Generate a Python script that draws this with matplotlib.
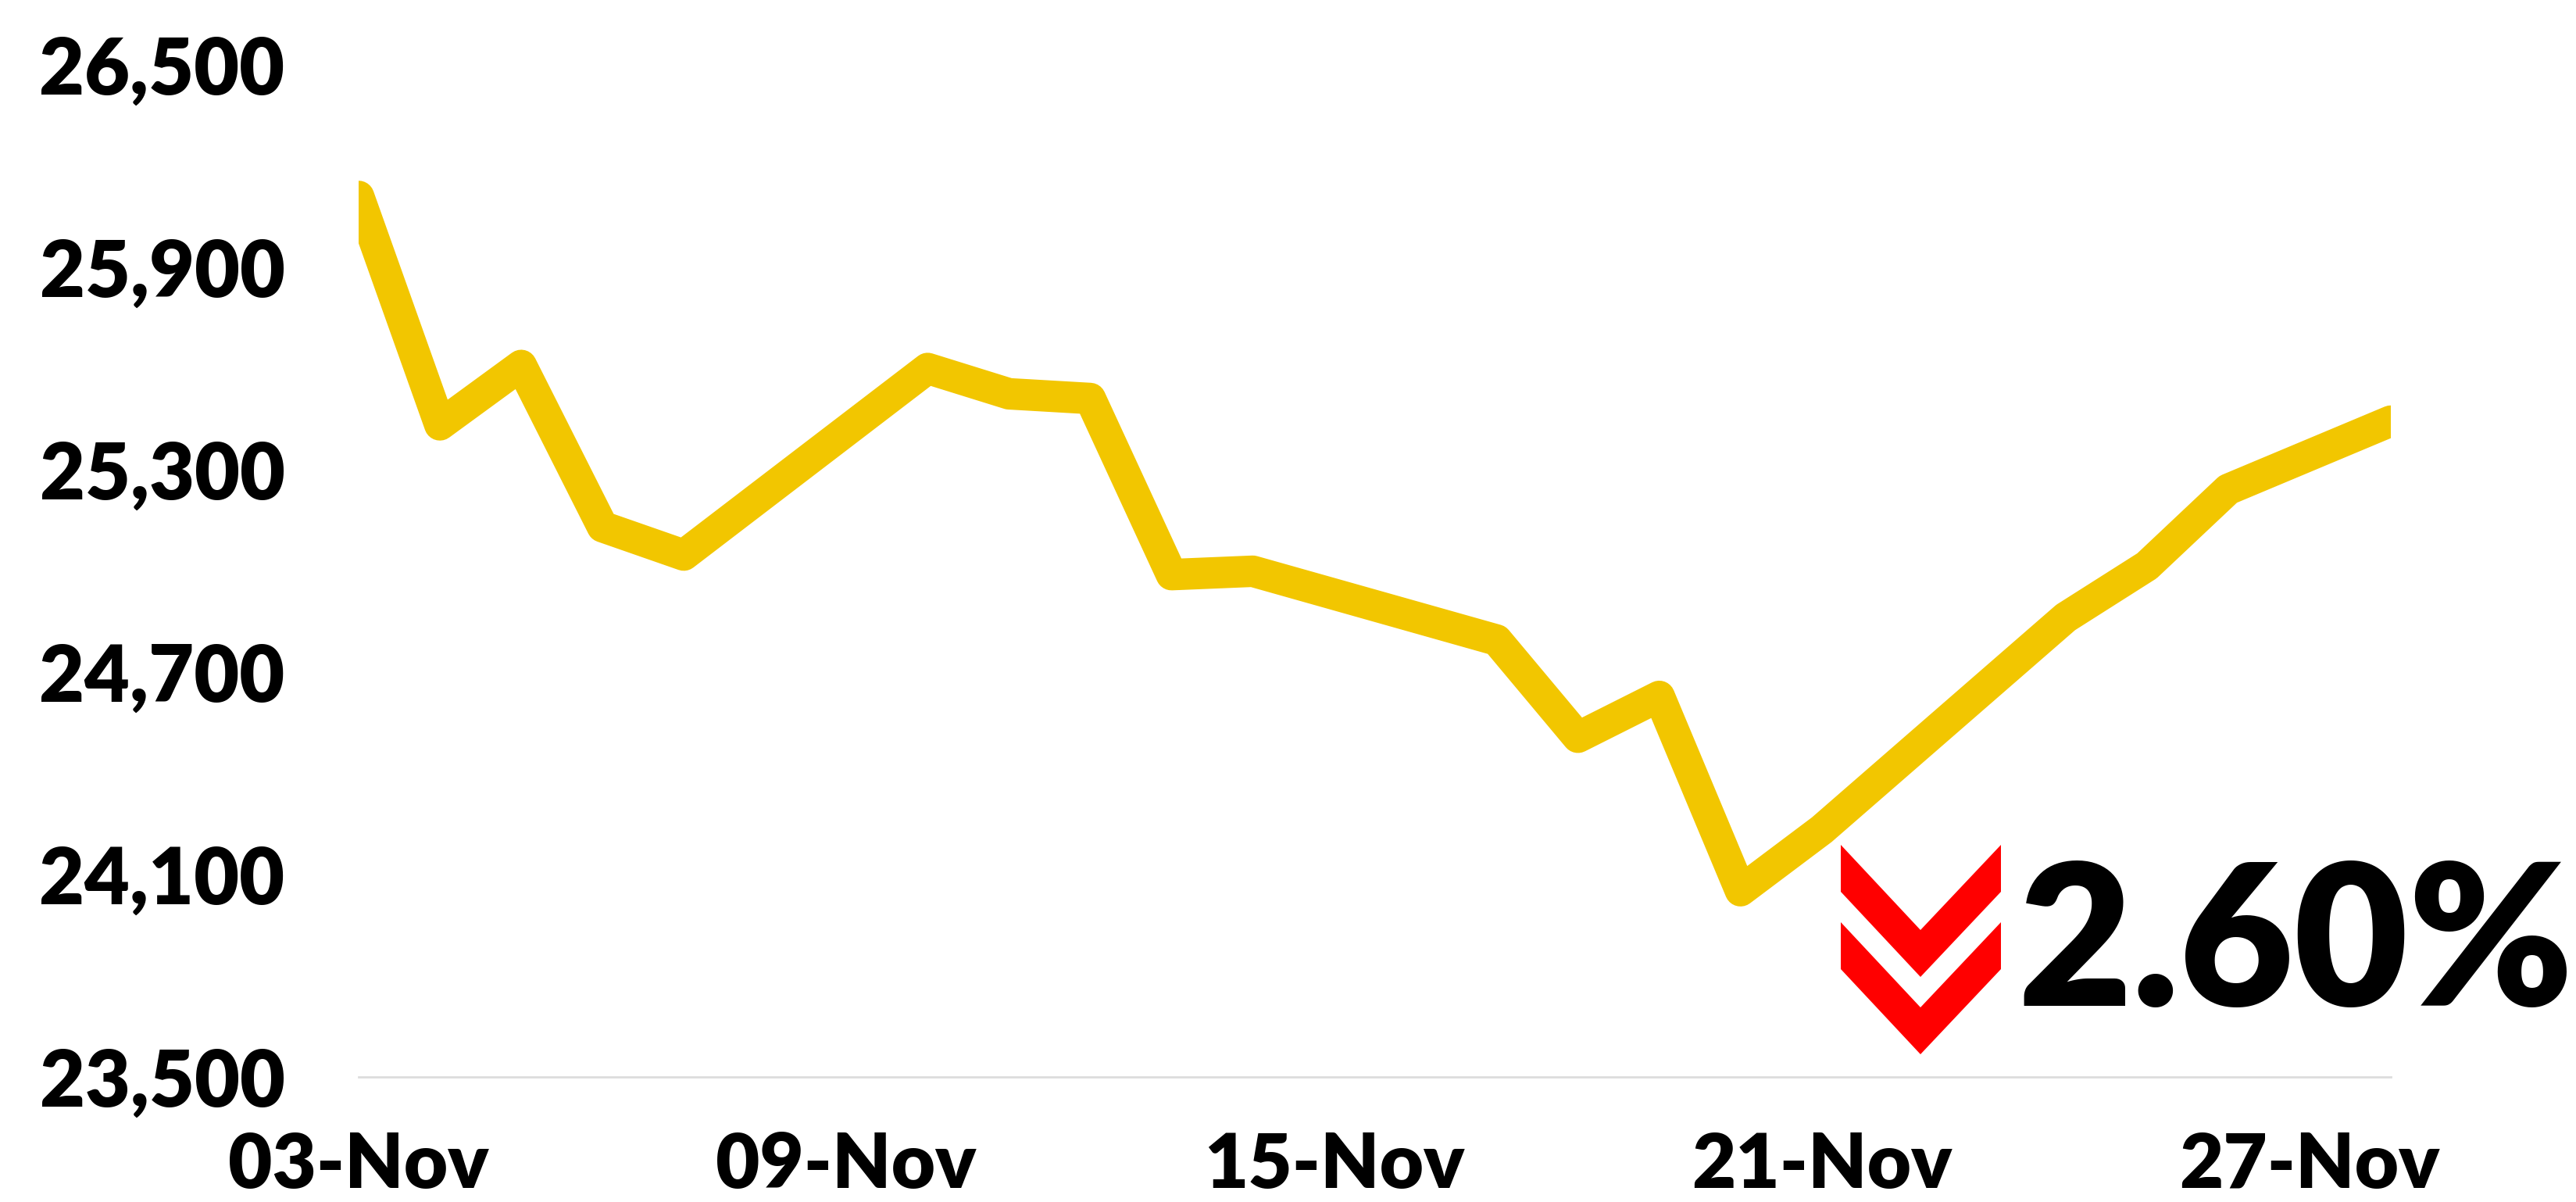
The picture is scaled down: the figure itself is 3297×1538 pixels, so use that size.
import matplotlib.pyplot as plt
import matplotlib.dates as mdates
from matplotlib.patches import Polygon
import pandas as pd

# index level, daily closes (gaps = no trading)
dates = ['2023-11-03', '2023-11-04', '2023-11-05', '2023-11-06', '2023-11-07',
         '2023-11-10', '2023-11-11', '2023-11-12', '2023-11-13', '2023-11-14',
         '2023-11-17', '2023-11-18', '2023-11-19', '2023-11-20', '2023-11-21',
         '2023-11-24', '2023-11-25', '2023-11-26', '2023-11-28']
values = [26110, 25433, 25609, 25131, 25047,
          25600, 25525, 25511, 24989, 24999,
          24795, 24507, 24628, 24052, 24233,
          24862, 25015, 25242, 25444]
x_ticks = ['2023-11-03', '2023-11-09', '2023-11-15', '2023-11-21', '2023-11-27']
y_ticks = [23500, 24100, 24700, 25300, 25900, 26500]
change_label = '2.60%'

W, H = 3298, 1538
plt.rcParams['font.family'] = ['Lato', 'DejaVu Sans']

data = pd.DataFrame({'date': pd.to_datetime(dates), 'value': values})

fig = plt.figure(figsize=(W / 200, H / 200), dpi=200)
ax = fig.add_axes([459 / W, 1 - 1378 / H, (3060 - 459) / W, (1378 - 83) / H])

ax.plot(data['date'], data['value'], color='#F2C600', linewidth=14.5,
        solid_joinstyle='round', solid_capstyle='round')

ax.set_xlim(pd.Timestamp('2023-11-03'), pd.Timestamp('2023-11-28'))
ax.set_ylim(y_ticks[0], y_ticks[-1])
ax.set_xticks(pd.to_datetime(x_ticks))
ax.xaxis.set_major_formatter(mdates.DateFormatter('%d-%b'))
ax.set_yticks(y_ticks)
ax.set_yticklabels([f'{v:,}' for v in y_ticks])

for side in ['top', 'right', 'left']:
    ax.spines[side].set_visible(False)
ax.spines['bottom'].set_color('#DDDDDD')
ax.spines['bottom'].set_linewidth(1)
ax.tick_params(axis='both', length=0, labelsize=36)
ax.tick_params(axis='x', labelsize=35)
ax.tick_params(axis='y', pad=34)
ax.tick_params(axis='x', pad=25)
for lbl in ax.get_xticklabels() + ax.get_yticklabels():
    lbl.set_fontweight('heavy')


def px(x, y):
    return (x / W, 1 - y / H)


# red double chevron
for top in [1081, 1180]:
    pts = [px(2356, top), px(2458, top + 109), px(2561, top),
           px(2561, top + 60), px(2458, top + 169), px(2356, top + 60)]
    fig.patches.append(Polygon(pts, closed=True, facecolor='#FF0000',
                               edgecolor='none', transform=fig.transFigure))

fig.text(2582 / W, 1 - 1287 / H, change_label, ha='left', va='baseline',
         fontsize=91, fontweight='heavy', color='black')

fig.savefig('out.png', dpi=200)
